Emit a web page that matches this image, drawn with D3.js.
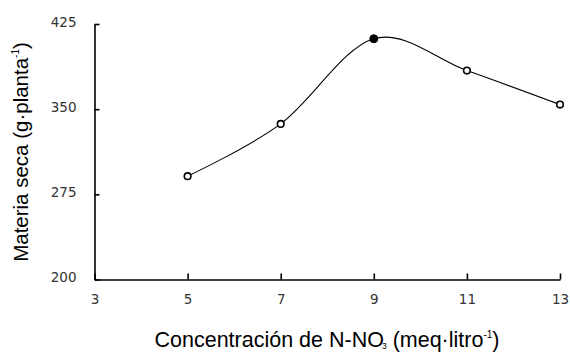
<!DOCTYPE html>
<html>
<head>
<meta charset="utf-8">
<script src="https://cdn.jsdelivr.net/npm/d3@7"></script>
<style>
  html, body { margin: 0; padding: 0; background: #fff; }
  svg { display: block; }
</style>
</head>
<body>
<svg id="chart" width="570" height="352"></svg>
<script>
// Dry matter per plant against nitrate-nitrogen concentration
const concentrations = [5, 7, 9, 11, 13];
const dryMatter = [291, 337, 412, 384, 354];
const highlighted = [false, false, true, false, false];
const xTicks = [3, 5, 7, 9, 11, 13];
const yTicks = [200, 275, 350, 425];

const svg = d3.select("#chart");

const x = d3.scaleLinear().domain([3, 13]).range([94.5, 560]);
const y = d3.scaleLinear().domain([200, 425]).range([279.5, 24]);

const tickFont = "'DejaVu Sans', Verdana, sans-serif";
const titleFont = "'Liberation Sans', Arial, sans-serif";

// x axis
const xAxis = svg.append("g")
  .attr("transform", `translate(0,${y(200)})`)
  .call(d3.axisBottom(x).tickValues(xTicks).tickSizeInner(-6).tickSizeOuter(0).tickPadding(15).tickFormat(d3.format("d")));
xAxis.select(".domain").attr("stroke", "#000").attr("stroke-width", 1.6);
xAxis.selectAll(".tick line").attr("stroke", "#000").attr("stroke-width", 1.6);
xAxis.selectAll(".tick text").attr("font-family", tickFont).attr("font-size", 13.5).attr("fill", "#333");

// y axis
const yAxis = svg.append("g")
  .attr("transform", `translate(${x(3)},0)`)
  .call(d3.axisLeft(y).tickValues(yTicks).tickSizeInner(-5).tickSizeOuter(0).tickPadding(18).tickFormat(d3.format("d")));
yAxis.select(".domain").attr("stroke", "#000").attr("stroke-width", 1.6);
yAxis.selectAll(".tick text").attr("font-family", tickFont).attr("font-size", 13.5).attr("fill", "#333")
  .attr("dy", "0.15em");
yAxis.selectAll(".tick line").attr("stroke", "#000").attr("stroke-width", 1.6);

// smoothed line through the measurements
const pts = concentrations.map((c, i) => ({ c, v: dryMatter[i], hl: highlighted[i] }));
const line = d3.line()
  .x(d => x(d.c))
  .y(d => y(d.v))
  .curve(d3.curveCatmullRom.alpha(0));
svg.append("path")
  .datum(pts)
  .attr("d", line)
  .attr("fill", "none")
  .attr("stroke", "#000")
  .attr("stroke-width", 1.1);

// markers
svg.selectAll("circle.pt")
  .data(pts)
  .join("circle")
  .attr("class", "pt")
  .attr("cx", d => x(d.c))
  .attr("cy", d => y(d.v))
  .attr("r", d => d.hl ? 4 : 3.3)
  .attr("fill", d => d.hl ? "#000" : "#fff")
  .attr("stroke", "#000")
  .attr("stroke-width", d => d.hl ? 1 : 1.6);

// axis titles
const xTitle = svg.append("text")
  .attr("x", 327)
  .attr("y", 347)
  .attr("text-anchor", "middle")
  .attr("font-family", titleFont)
  .attr("font-size", 21.5)
  .attr("fill", "#000");
xTitle.append("tspan").text("Concentración de N-NO");
xTitle.append("tspan").attr("font-size", 8.5).attr("dx", -2).attr("dy", 2).text("3");
xTitle.append("tspan").attr("dy", -2).text(" (meq·litro");
xTitle.append("tspan").attr("font-size", 10).attr("dy", -9).text("-1");
xTitle.append("tspan").attr("dy", 9).text(")");

const yTitle = svg.append("text")
  .attr("transform", "translate(27.5,152) rotate(-90)")
  .attr("text-anchor", "middle")
  .attr("font-family", titleFont)
  .attr("font-size", 20.5)
  .attr("fill", "#000");
yTitle.append("tspan").text("Materia seca (g·planta");
yTitle.append("tspan").attr("font-size", 10).attr("dy", -9).text("-1");
yTitle.append("tspan").attr("dy", 9).text(")");
</script>
</body>
</html>
